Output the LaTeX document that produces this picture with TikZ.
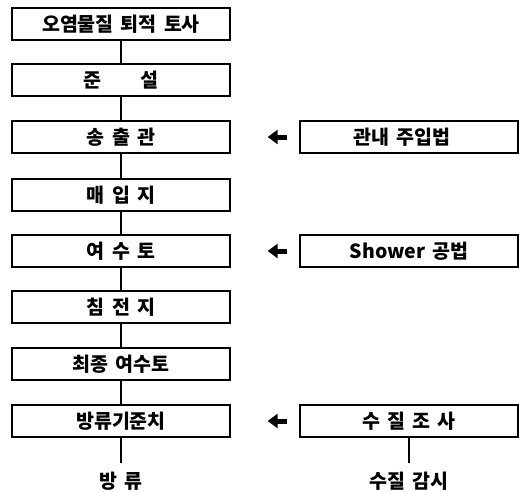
\documentclass[tikz,border=0pt]{standalone}
\usepackage{fontspec}
\newfontfamily\kr{Noto Sans CJK KR}[WordSpace=1.6]
\usetikzlibrary{arrows.meta}
\begin{document}
\begin{tikzpicture}[x=1pt,y=-1pt,
  txt/.style={font=\kr\bfseries\fontsize{19.5}{19.5}\selectfont},
  box/.style={txt,draw,line width=1.3pt,minimum width=218pt,minimum height=32pt,inner sep=0pt},
  lbl/.style={txt,inner sep=0pt},
  link/.style={line width=1.2pt},
  arr/.style={line width=5pt,-{Triangle[width=14pt,length=10pt]},shorten <=12pt,shorten >=37pt}]
\useasboundingbox (0,0) rectangle (523,491);
\node[box] (n1) at (121,24) {오염물질 퇴적 토사};
\node[box] (n2) at (121,80) {준\hspace{40pt}설};
\node[box] (n3) at (121,137) {송 출 관};
\node[box] (n4) at (121,195) {매 입 지};
\node[box] (n5) at (121,251) {여 수 토};
\node[box] (n6) at (121,307) {침 전 지};
\node[box] (n7) at (121,364) {최종 여수토};
\node[box] (n8) at (121,421) {방류기준치};
\node[box] (r1) at (409,137) {\hspace{-14pt}관내 주입법};
\node[box] (r2) at (409,251) {Shower 공법};
\node[box] (r3) at (409,421) {수 질 조 사};
\node[lbl] (t1) at (121,481) {방 류};
\node[lbl] (t2) at (409,481) {수질 감시};
\draw[link] (n1) -- (n2);
\draw[link] (n2) -- (n3);
\draw[link] (n3) -- (n4);
\draw[link] (n4) -- (n5);
\draw[link] (n5) -- (n6);
\draw[link] (n6) -- (n7);
\draw[link] (n7) -- (n8);
\draw[link,shorten >=9pt] (n8) -- (t1);
\draw[link,shorten >=9pt] (r3) -- (t2);
\draw[arr] (r1.west) -- (n3.east);
\draw[arr] (r2.west) -- (n5.east);
\draw[arr] (r3.west) -- (n8.east);
\end{tikzpicture}
\end{document}
